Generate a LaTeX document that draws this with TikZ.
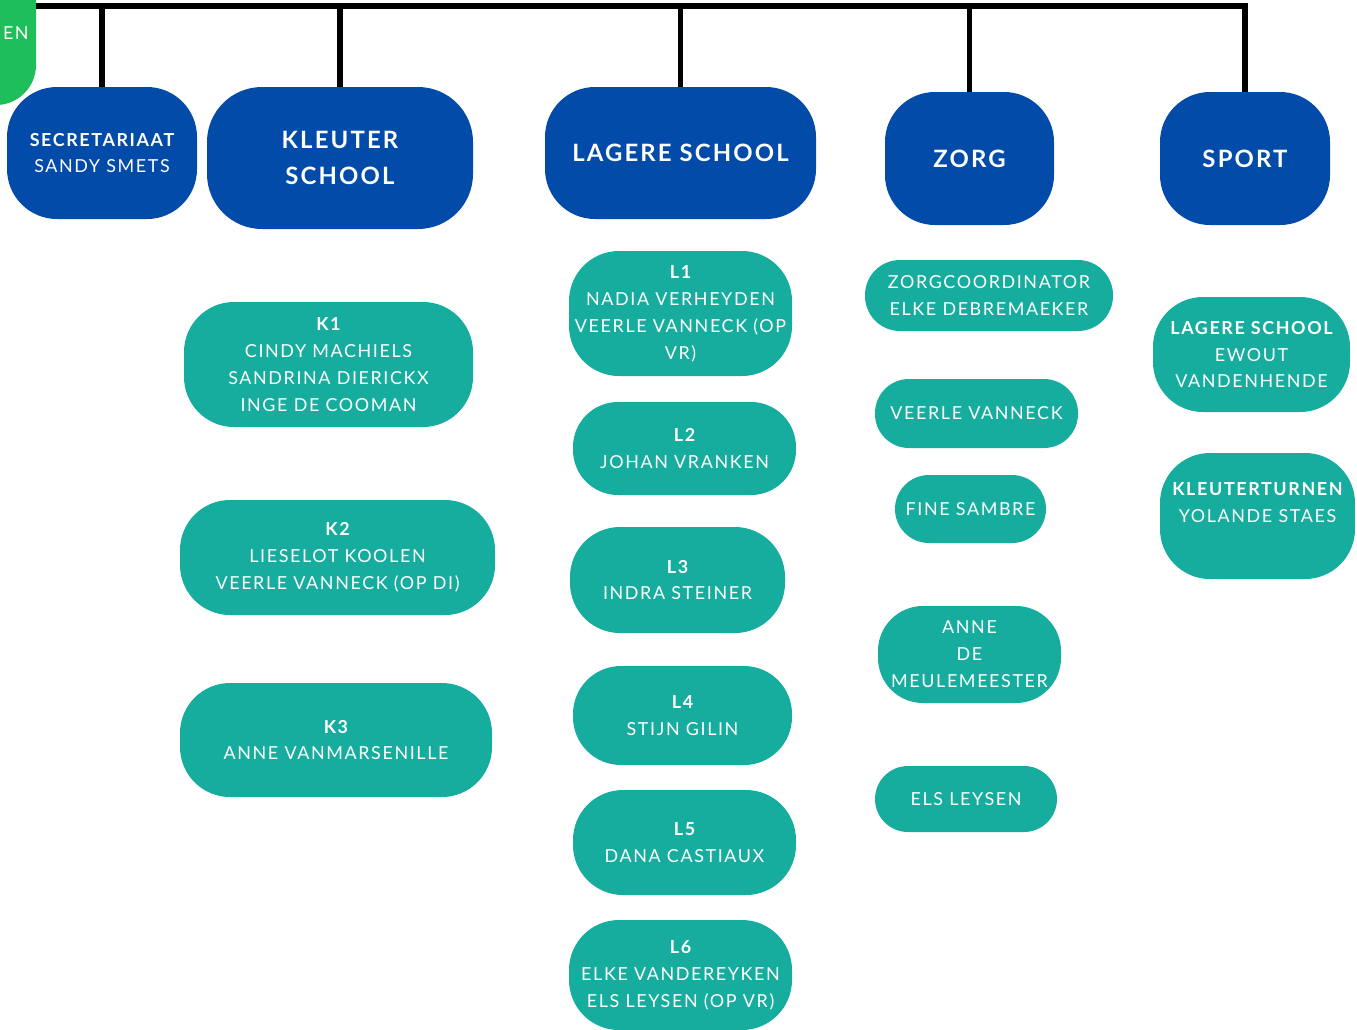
\documentclass[tikz,border=0pt]{standalone}
\usepackage{fontspec}
\setmainfont{Lato}[LetterSpace=9]
\definecolor{bluec}{RGB}{3,75,168}
\definecolor{tealc}{RGB}{22,173,158}
\definecolor{greenc}{RGB}{30,190,90}
\newcommand\smtxt{\fontsize{10.2pt}{15.3pt}\selectfont}
\newcommand\bigtxt{\fontsize{13.6pt}{20.4pt}\selectfont\bfseries}
\tikzset{
  bbox/.style={fill=bluec, text=white, align=center, inner sep=0pt, font=\smtxt},
  tbox/.style={fill=tealc, text=white, align=center, inner sep=0pt, font=\smtxt},
  sz/.style 2 args={minimum width=#1*0.02cm, minimum height=#2*0.02cm},
  rc/.style={rounded corners=#1*0.02cm},
  bus/.style={line width=3.2pt, black}
}
\begin{document}
\begin{tikzpicture}[x=0.02cm, y=-0.02cm]
\useasboundingbox (0,0) rectangle (1357,1029);
% header boxes
\node[bbox, sz={190}{132}, rc=50] (sec) at (102,153) {{\bfseries SECRETARIAAT}\\SANDY SMETS};
\node[bbox, sz={266}{142}, rc=55, font=\bigtxt] (kle) at (340,158) {KLEUTER\\SCHOOL};
\node[bbox, sz={271}{132}, rc=50, font=\bigtxt] (lag) at (680.5,153) {LAGERE SCHOOL};
\node[bbox, sz={169}{133}, rc=50, font=\bigtxt] (zorg) at (969.5,158.5) {ZORG};
\node[bbox, sz={170}{133}, rc=50, font=\bigtxt] (sport) at (1245,158.5) {SPORT};
% bus
\coordinate (busL) at (20,6);
\draw[bus] (busL) -| (sport.north);
\foreach \n in {sec,kle,lag,zorg}{\draw[bus] (\n.north) -- (\n.north |- busL);}
% green corner
\fill[greenc, rc=40] (-100,-100) rectangle (36,105);
\node[text=white, font=\smtxt, anchor=east, inner sep=0pt] (en) at (29,33) {EN};
% kleuter
\node[tbox, sz={289}{125}, rc=50] (k1) at (328.5,364.5) {{\bfseries K1}\\CINDY MACHIELS\\SANDRINA DIERICKX\\INGE DE COOMAN};
\node[tbox, sz={315}{115}, rc=50] (k2) at (337.5,557.5) {{\bfseries K2}\\LIESELOT KOOLEN\\VEERLE VANNECK (OP DI)};
\node[tbox, sz={312}{114}, rc=50] (k3) at (336,740) {{\bfseries K3}\\ANNE VANMARSENILLE};
% lagere
\node[tbox, sz={223}{125}, rc=50] (l1) at (680.5,313.5) {{\bfseries L1}\\NADIA VERHEYDEN\\VEERLE VANNECK (OP\\VR)};
\node[tbox, sz={223}{93}, rc=45] (l2) at (684.5,448.5) {{\bfseries L2}\\JOHAN VRANKEN};
\node[tbox, sz={215}{106}, rc=50] (l3) at (677.5,580) {{\bfseries L3}\\INDRA STEINER};
\node[tbox, sz={219}{99}, rc=48] (l4) at (682.5,715.5) {{\bfseries L4}\\STIJN GILIN};
\node[tbox, sz={223}{105}, rc=50] (l5) at (684.5,842.5) {{\bfseries L5}\\DANA CASTIAUX};
\node[tbox, sz={223}{110}, rc=50] (l6) at (680.5,975) {{\bfseries L6}\\ELKE VANDEREYKEN\\ELS LEYSEN (OP VR)};
% zorg
\node[tbox, sz={248}{71}, rc=35] (zc) at (989,295.5) {ZORGCOORDINATOR\\ELKE DEBREMAEKER};
\node[tbox, sz={203}{69}, rc=34] (vv) at (976.5,413.5) {VEERLE VANNECK};
\node[tbox, sz={151}{68}, rc=34] (fs) at (970.5,509) {FINE SAMBRE};
\node[tbox, sz={183}{97}, rc=45] (adm) at (969.5,654.5) {ANNE\\DE\\MEULEMEESTER};
\node[tbox, sz={182}{66}, rc=33] (el) at (966,799) {ELS LEYSEN};
% sport
\node[tbox, sz={197}{115}, rc=50] (ls) at (1251.5,354.5) {{\bfseries LAGERE SCHOOL}\\EWOUT\\VANDENHENDE};
\node[tbox, sz={195}{126}, rc=50] (kt) at (1257.5,516) {{\bfseries KLEUTERTURNEN}\\YOLANDE STAES\\\mbox{}};
\end{tikzpicture}
\end{document}
